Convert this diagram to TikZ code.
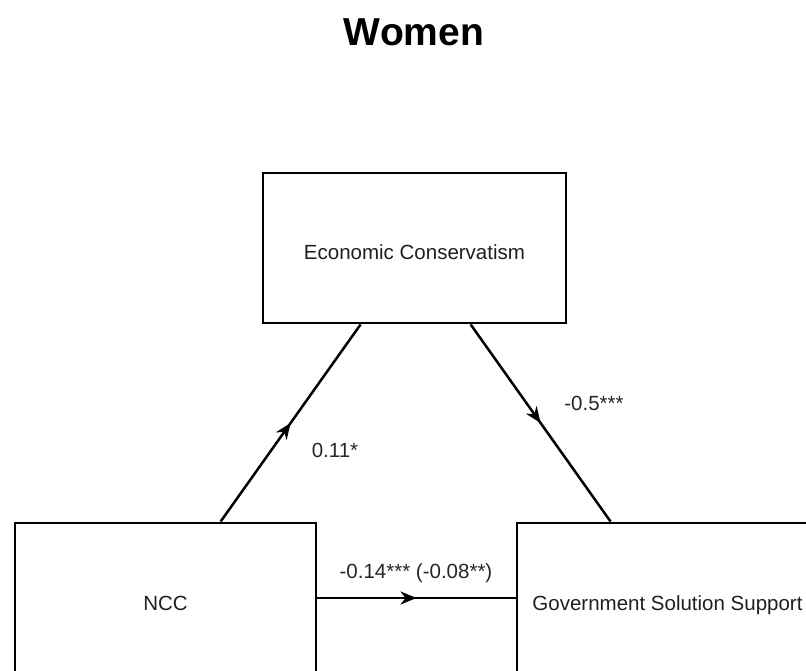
\documentclass[tikz,border=0pt]{standalone}
\usepackage{fontspec}
\setmainfont{Liberation Sans}
\usetikzlibrary{arrows.meta,decorations.markings}

\tikzset{
  varbox/.style={draw=black, line width=2.8pt, minimum width=301pt, minimum height=150pt,
    inner sep=0pt, text height=24pt, text depth=0pt,
    font=\fontsize{20.5}{24}\selectfont, text=black!88},
  coef/.style={font=\fontsize{20.5}{24}\selectfont, text=black!85, inner sep=1pt},
  path/.style={line width=2.5pt, postaction={decorate},
    decoration={markings, mark=at position 0.5 with {\arrow{Stealth[length=16pt,width=13pt,inset=5pt]}}}}
}

\begin{document}
\begin{tikzpicture}[x=1pt,y=-1pt]
  \useasboundingbox (0,0) rectangle (806,671);
  \clip (0,0) rectangle (806,671);

  % heading
  \node[font=\bfseries\fontsize{39}{44}\selectfont] (title) at (414,32) {Women};

  % variables
  \node[varbox, minimum width=303pt] (ec) at (414.5,248) {Economic Conservatism};
  \node[varbox] (ncc) at (165.5,598) {NCC};
  \node[varbox] (gov) at (667.5,598) {Government Solution Support};

  % paths
  \draw[path] ([xshift=207pt]ncc.north west) -- ([xshift=99pt]ec.south west);
  \draw[path] ([xshift=209pt]ec.south west) -- ([xshift=95pt]gov.north west);
  \draw[path] (ncc.east) -- (gov.west);

  % coefficients
  \node[coef] (a) at (335,450) {0.11*};
  \node[coef] (b) at (594,403) {-0.5***};
  \node[coef] (c) at (416,573) {-0.14*** (-0.08**)};
\end{tikzpicture}
\end{document}
